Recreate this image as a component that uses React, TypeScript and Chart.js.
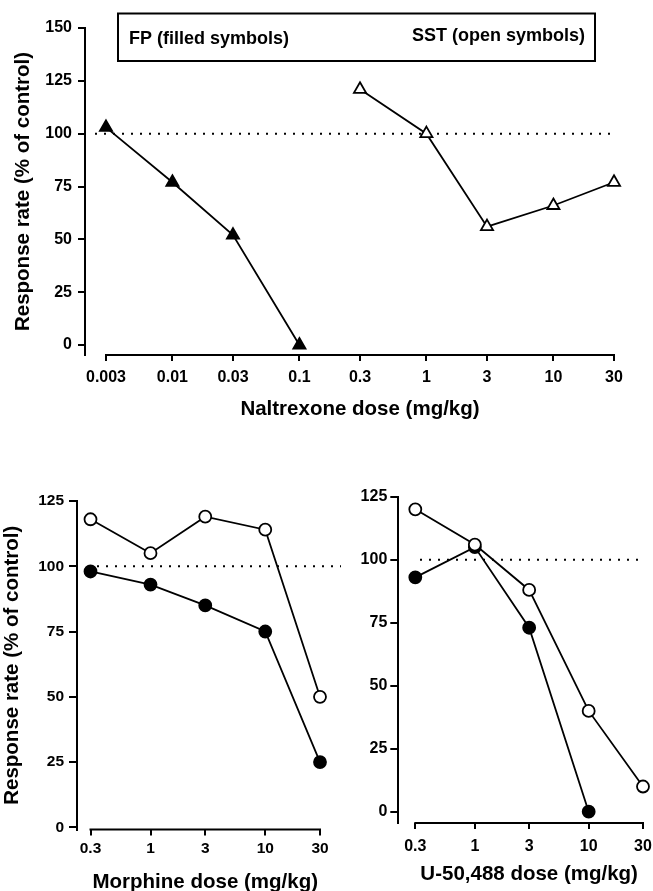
import React, { useEffect, useRef } from 'react';
import { Chart, registerables } from 'chart.js';

Chart.register(...registerables);

const FONT_FAMILY = '"Liberation Sans", Arial, Helvetica, sans-serif';

// ---------- data ----------
const naltrexoneDoses = [0.003, 0.01, 0.03, 0.1, 0.3, 1, 3, 10, 30];
const naltrexoneTickLabels = ['0.003', '0.01', '0.03', '0.1', '0.3', '1', '3', '10', '30'];
const fpNaltrexoneDoses = [0.003, 0.01, 0.03, 0.1];
const fpNaltrexoneRates = [103, 77, 52, 0];
const sstNaltrexoneDoses = [0.3, 1, 3, 10, 30];
const sstNaltrexoneRates = [121, 100, 56, 66, 77];

const agonistDoses = [0.3, 1, 3, 10, 30];
const agonistTickLabels = ['0.3', '1', '3', '10', '30'];
const morphineSstRates = [118, 105, 119, 114, 50];
const morphineFpRates = [98, 93, 85, 75, 25];
const u50488SstRates = [120, 106, 88, 40, 10];
const u50488FpDoses = [0.3, 1, 3, 10];
const u50488FpRates = [93, 105, 73, 0];

const topYTicks = [0, 25, 50, 75, 100, 125, 150];
const bottomYTicks = [0, 25, 50, 75, 100, 125];
const controlLevel = 100;

const yAxisTitle = 'Response rate (% of control)';
const naltrexoneTitle = 'Naltrexone dose (mg/kg)';
const morphineTitle = 'Morphine dose (mg/kg)';
const u50488Title = 'U-50,488 dose (mg/kg)';
const fpLegend = 'FP (filled symbols)';
const sstLegend = 'SST (open symbols)';

// ---------- config ----------
interface Series {
  label: string;
  doses: number[];
  rates: number[];
  filled: boolean;
  shape: 'triangle' | 'circle';
}

interface PanelSpec {
  series: Series[];
  tickDoses: number[];
  tickLabels: string[];
  yTicks: number[];
  xMin: number;
  xMax: number;
  yMin: number;
  yMax: number;
  padTop: number;
  padRight: number;
  yWidth: number;
  xHeight: number;
  yTickLen: number;
  yTickPad: number;
  xTickPad: number;
  tickFontSize: number;
  yTitle?: { text: string; pad: number };
  xTitle: { text: string; baseline: number };
  ref: { value: number; startOff: number; endOff: number };
  legend?: {
    box: [number, number, number, number];
    left: { text: string; x: number; y: number };
    right: { text: string; x: number; y: number };
  };
}

function decorPlugin(spec: PanelSpec) {
  return {
    id: 'decor',
    beforeDatasetsDraw(chart: any) {
      const { ctx, chartArea } = chart;
      const x = chart.scales.x;
      const y = chart.scales.y;
      const x0 = x.getPixelForValue(spec.tickDoses[0]);
      const x1 = x.getPixelForValue(spec.tickDoses[spec.tickDoses.length - 1]);
      ctx.save();
      ctx.strokeStyle = '#000';
      ctx.fillStyle = '#000';
      // x axis line (offset from the y axis)
      ctx.lineWidth = 2;
      ctx.beginPath();
      ctx.moveTo(x0 - 1, chartArea.bottom);
      ctx.lineTo(x1 + 1, chartArea.bottom);
      ctx.stroke();
      // control (100 %) dotted line
      const yRef = y.getPixelForValue(spec.ref.value);
      ctx.setLineDash([2, 7]);
      ctx.beginPath();
      ctx.moveTo(x0 + spec.ref.startOff, yRef);
      ctx.lineTo(x1 + spec.ref.endOff, yRef);
      ctx.stroke();
      ctx.setLineDash([]);
      // x title centred on the x axis
      ctx.font = `bold 20.5px ${FONT_FAMILY}`;
      ctx.textAlign = 'center';
      ctx.textBaseline = 'alphabetic';
      ctx.fillText(spec.xTitle.text, (x0 + x1) / 2, spec.xTitle.baseline);
      // legend box
      if (spec.legend) {
        const [bx0, by0, bx1, by1] = spec.legend.box;
        ctx.lineWidth = 2;
        ctx.strokeRect(bx0, by0, bx1 - bx0, by1 - by0);
        ctx.font = `bold 18px ${FONT_FAMILY}`;
        ctx.textAlign = 'left';
        ctx.fillText(spec.legend.left.text, spec.legend.left.x, spec.legend.left.y);
        ctx.textAlign = 'right';
        ctx.fillText(spec.legend.right.text, spec.legend.right.x, spec.legend.right.y);
      }
      ctx.restore();
    },
  };
}

function buildConfig(spec: PanelSpec): any {
  const tickFont = { family: FONT_FAMILY, size: spec.tickFontSize, weight: 'bold' as const };
  return {
    type: 'line',
    data: {
      datasets: spec.series.map((s) => ({
        label: s.label,
        data: s.doses.map((d, i) => ({ x: d, y: s.rates[i] })),
        borderColor: '#000',
        borderWidth: 1.8,
        pointStyle: s.shape,
        pointRadius: s.shape === 'triangle' ? 7 : 6,
        pointHoverRadius: s.shape === 'triangle' ? 7 : 6,
        pointBorderWidth: 1.8,
        pointBorderColor: '#000',
        pointBackgroundColor: s.filled ? '#000' : '#fff',
        tension: 0,
        fill: false,
        clip: false,
      })),
    },
    options: {
      animation: false,
      responsive: false,
      maintainAspectRatio: false,
      devicePixelRatio: 1,
      events: [],
      layout: { padding: { top: spec.padTop, right: spec.padRight, bottom: 0, left: 0 } },
      plugins: {
        legend: { display: false },
        tooltip: { enabled: false },
        title: { display: false },
      },
      scales: {
        x: {
          type: 'logarithmic',
          min: spec.xMin,
          max: spec.xMax,
          afterBuildTicks: (scale: any) => {
            scale.ticks = spec.tickDoses.map((v) => ({ value: v }));
          },
          afterFit: (scale: any) => {
            scale.height = spec.xHeight;
            scale.paddingLeft = 0;
            scale.paddingRight = 0;
          },
          ticks: {
            autoSkip: false,
            maxRotation: 0,
            minRotation: 0,
            padding: spec.xTickPad,
            color: '#000',
            font: tickFont,
            callback: (_v: any, i: number) => spec.tickLabels[i],
          },
          grid: {
            display: true,
            drawOnChartArea: false,
            drawTicks: true,
            tickLength: 6,
            color: '#000',
            lineWidth: 2,
          },
          border: { display: false },
          title: { display: false },
        },
        y: {
          type: 'linear',
          min: spec.yMin,
          max: spec.yMax,
          afterBuildTicks: (scale: any) => {
            scale.ticks = spec.yTicks.map((v) => ({ value: v }));
          },
          afterFit: (scale: any) => {
            scale.width = spec.yWidth;
            scale.paddingTop = 0;
            scale.paddingBottom = 0;
          },
          ticks: {
            padding: spec.yTickPad,
            color: '#000',
            font: tickFont,
            callback: (_v: any, i: number) => String(spec.yTicks[i]),
          },
          grid: {
            display: true,
            drawOnChartArea: false,
            drawTicks: true,
            tickLength: spec.yTickLen,
            color: '#000',
            lineWidth: 2,
          },
          border: { display: true, color: '#000', width: 2 },
          title: spec.yTitle
            ? {
                display: true,
                text: spec.yTitle.text,
                color: '#000',
                font: { family: FONT_FAMILY, size: 20.5, weight: 'bold' },
                padding: { top: spec.yTitle.pad, bottom: 0 },
              }
            : { display: false },
        },
      },
    },
    plugins: [decorPlugin(spec)],
  };
}

// ---------- panels ----------
const topSpec: PanelSpec = {
  series: [
    { label: 'SST', doses: sstNaltrexoneDoses, rates: sstNaltrexoneRates, filled: false, shape: 'triangle' },
    { label: 'FP', doses: fpNaltrexoneDoses, rates: fpNaltrexoneRates, filled: true, shape: 'triangle' },
  ],
  tickDoses: naltrexoneDoses,
  tickLabels: naltrexoneTickLabels,
  yTicks: topYTicks,
  xMin: 0.00205,
  xMax: 30,
  yMin: -4.73,
  yMax: 150,
  padTop: 28,
  padRight: 39,
  yWidth: 85,
  xHeight: 75,
  yTickLen: 7,
  yTickPad: 6,
  xTickPad: 7,
  tickFontSize: 16,
  yTitle: { text: yAxisTitle, pad: 11.5 },
  xTitle: { text: naltrexoneTitle, baseline: 415 },
  ref: { value: controlLevel, startOff: -11, endOff: -1 },
  legend: {
    box: [118, 13.5, 595, 61],
    left: { text: fpLegend, x: 129, y: 44 },
    right: { text: sstLegend, x: 585, y: 41 },
  },
};

const morphineSpec: PanelSpec = {
  series: [
    { label: 'SST', doses: agonistDoses, rates: morphineSstRates, filled: false, shape: 'circle' },
    { label: 'FP', doses: agonistDoses, rates: morphineFpRates, filled: true, shape: 'circle' },
  ],
  tickDoses: agonistDoses,
  tickLabels: agonistTickLabels,
  yTicks: bottomYTicks,
  xMin: 0.2288,
  xMax: 30,
  yMin: -0.84,
  yMax: 125,
  padTop: 71,
  padRight: 25,
  yWidth: 77,
  xHeight: 61.5,
  yTickLen: 8,
  yTickPad: 5,
  xTickPad: 3.5,
  tickFontSize: 15.5,
  yTitle: { text: yAxisTitle, pad: 0 },
  xTitle: { text: morphineTitle, baseline: 887.7 - 430 },
  ref: { value: controlLevel, startOff: 6.5, endOff: 21 },
};

const u50488Spec: PanelSpec = {
  series: [
    { label: 'SST', doses: agonistDoses, rates: u50488SstRates, filled: false, shape: 'circle' },
    { label: 'FP', doses: u50488FpDoses, rates: u50488FpRates, filled: true, shape: 'circle' },
  ],
  tickDoses: agonistDoses,
  tickLabels: agonistTickLabels,
  yTicks: bottomYTicks,
  xMin: 0.2127,
  xMax: 30,
  yMin: -4.48,
  yMax: 125,
  padTop: 66.7,
  padRight: 10,
  yWidth: 53.3,
  xHeight: 68,
  yTickLen: 8,
  yTickPad: 3,
  xTickPad: 8.4,
  tickFontSize: 16,
  xTitle: { text: u50488Title, baseline: 879.5 - 430 },
  ref: { value: controlLevel, startOff: 4.7, endOff: -5 },
};

function ChartCanvas(props: { left: number; top: number; width: number; height: number; spec: PanelSpec }) {
  const ref = useRef<HTMLCanvasElement | null>(null);
  useEffect(() => {
    if (!ref.current) return;
    const chart = new Chart(ref.current, buildConfig(props.spec));
    return () => chart.destroy();
  }, []);
  return (
    <canvas
      ref={ref}
      width={props.width}
      height={props.height}
      style={{ position: 'absolute', left: props.left, top: props.top, width: props.width, height: props.height }}
    />
  );
}

export default function App() {
  return (
    <div style={{ position: 'absolute', left: 0, top: 0, width: 653, height: 891, background: '#fff', overflow: 'hidden' }}>
      <ChartCanvas left={0} top={0} width={653} height={430} spec={topSpec} />
      <ChartCanvas left={0} top={430} width={345} height={461} spec={morphineSpec} />
      <ChartCanvas left={345} top={430} width={308} height={461} spec={u50488Spec} />
    </div>
  );
}
